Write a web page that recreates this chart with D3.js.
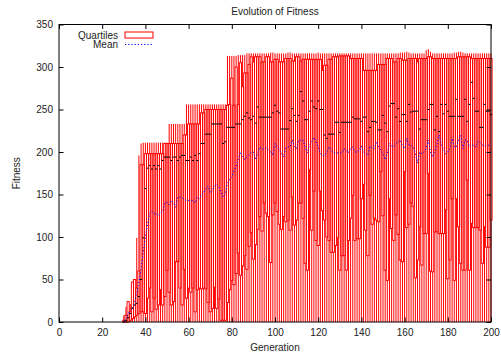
<!DOCTYPE html>
<html>
<head>
<meta charset="utf-8">
<script src="https://cdn.jsdelivr.net/npm/d3@7"></script>
<style>
  body { margin: 0; background: #fff; }
  svg { display: block; font-family: "Liberation Sans", Arial, sans-serif; }
</style>
</head>
<body>
<svg id="chart" width="501" height="356"></svg>
<script>
// Generations 30..200 (fitness is zero everywhere before 30)
const generations = d3.range(30, 201);

const minFitness = [
  0, 0, 0, 0, 0, 0, 0, 0, 0, 0,
  0, 0, 0, 0, 0, 0, 0, 0, 0, 0,
  0, 0, 0, 0, 0, 0, 0, 0, 0, 0,
  0, 0, 0, 0, 0, 0, 0, 0, 0, 0,
  0, 0, 0, 0, 0, 0, 0, 0, 0, 0,
  0, 0, 0, 0, 0, 0, 0, 0, 0, 0,
  0, 0, 0, 0, 0, 0, 0, 0, 0, 0,
  0, 0, 0, 0, 0, 0, 0, 0, 0, 0,
  0, 0, 0, 0, 0, 0, 0, 0, 0, 0,
  0, 0, 0, 0, 0, 0, 0, 0, 0, 0,
  0, 0, 0, 0, 0, 0, 0, 0, 0, 0,
  0, 0, 0, 0, 0, 0, 0, 0, 0, 0,
  0, 0, 0, 0, 0, 0, 0, 0, 0, 0,
  0, 0, 0, 0, 0, 0, 0, 0, 0, 0,
  0, 0, 0, 0, 0, 0, 0, 0, 0, 0,
  0, 0, 0, 0, 0, 0, 0, 0, 0, 0,
  0, 0, 0, 0, 0, 0, 0, 0, 0, 0,
  0
];

const q1Fitness = [
  0, 0, 0, 2, 4, 6, 8, 10, 12, 12,
  10, 28, 40, 12, 28, 15, 20, 38, 20, 30,
  61, 35, 20, 24, 71, 71, 40, 20, 62, 28,
  40, 35, 40, 12, 38, 40, 39, 40, 39, 23,
  12, 16, 41, 16, 27, 2, 2, 2, 23, 38,
  49, 44, 57, 81, 55, 66, 78, 62, 89, 105,
  74, 91, 109, 124, 107, 140, 128, 124, 70, 126,
  140, 130, 115, 109, 124, 118, 120, 108, 147, 114,
  120, 140, 140, 122, 69, 61, 179, 108, 154, 96,
  90, 154, 131, 120, 100, 96, 82, 82, 90, 99,
  61, 78, 78, 61, 96, 122, 149, 96, 98, 98,
  145, 162, 108, 78, 149, 115, 122, 120, 118, 177,
  125, 61, 49, 145, 110, 96, 126, 103, 73, 71,
  177, 111, 115, 140, 136, 52, 73, 112, 67, 104,
  104, 175, 60, 59, 106, 106, 104, 104, 104, 132,
  51, 73, 145, 49, 145, 112, 69, 61, 61, 167,
  61, 116, 111, 111, 111, 108, 69, 112, 88, 88,
  120
];

const medianFitness = [
  0, 2, 5, 10, 16, 20, 22, 30, 50, 99,
  157, 181, 184, 180, 184, 180, 184, 180, 190, 194,
  194, 194, 190, 194, 194, 190, 194, 196, 196, 190,
  190, 194, 190, 196, 190, 198, 210, 210, 221, 221,
  221, 233, 233, 233, 233, 233, 210, 212, 229, 229,
  229, 229, 233, 233, 233, 238, 242, 246, 240, 238,
  242, 234, 253, 241, 241, 241, 241, 241, 241, 246,
  255, 248, 246, 227, 227, 227, 227, 237, 251, 243,
  236, 243, 271, 260, 238, 238, 248, 260, 253, 251,
  260, 250, 250, 220, 216, 221, 221, 221, 235, 235,
  223, 235, 235, 235, 235, 235, 241, 239, 239, 239,
  236, 241, 241, 224, 229, 236, 236, 235, 226, 226,
  243, 234, 224, 254, 257, 257, 241, 251, 236, 244,
  244, 236, 256, 247, 248, 248, 248, 227, 238, 238,
  238, 250, 256, 256, 226, 242, 224, 256, 245, 256,
  248, 242, 242, 242, 262, 242, 242, 242, 262, 236,
  256, 282, 263, 248, 248, 229, 229, 256, 248, 248,
  244
];

const q3Fitness = [
  2, 8, 24, 12, 47, 50, 40, 60, 185, 185,
  198, 198, 198, 198, 198, 198, 198, 198, 198, 210,
  210, 210, 210, 210, 210, 210, 210, 210, 220, 220,
  233, 233, 233, 233, 233, 233, 246, 246, 250, 250,
  250, 250, 250, 250, 250, 250, 250, 250, 255, 256,
  287, 255, 300, 256, 305, 277, 293, 293, 303, 312,
  306, 312, 312, 312, 306, 306, 312, 312, 306, 306,
  309, 309, 306, 306, 306, 310, 310, 310, 307, 307,
  312, 312, 307, 309, 309, 309, 309, 309, 309, 309,
  309, 309, 296, 302, 302, 309, 309, 312, 312, 312,
  313, 313, 313, 313, 313, 310, 310, 310, 310, 310,
  310, 296, 296, 296, 296, 296, 296, 296, 303, 303,
  303, 303, 310, 310, 310, 306, 306, 310, 310, 308,
  308, 308, 310, 310, 310, 310, 306, 310, 310, 310,
  310, 312, 312, 310, 310, 310, 310, 310, 310, 310,
  310, 310, 310, 310, 310, 312, 312, 312, 312, 312,
  312, 310, 310, 310, 310, 310, 310, 310, 310, 310,
  310
];

const maxFitness = [
  8, 18, 24, 21, 47, 50, 99, 196, 210, 211,
  211, 211, 211, 211, 211, 211, 211, 211, 211, 211,
  211, 233, 233, 233, 233, 233, 233, 233, 233, 256,
  256, 256, 256, 256, 256, 256, 256, 256, 256, 256,
  256, 256, 256, 256, 256, 256, 256, 256, 313, 313,
  313, 313, 313, 314, 314, 314, 314, 316, 316, 316,
  316, 316, 316, 316, 316, 316, 316, 316, 317, 317,
  316, 316, 316, 316, 316, 316, 317, 317, 316, 316,
  316, 316, 316, 316, 316, 316, 316, 316, 316, 316,
  317, 316, 316, 316, 316, 316, 316, 316, 316, 316,
  316, 316, 316, 316, 316, 316, 316, 316, 316, 316,
  316, 316, 316, 316, 316, 316, 316, 316, 316, 316,
  316, 316, 316, 316, 316, 316, 316, 316, 317, 317,
  317, 318, 317, 316, 316, 316, 316, 316, 316, 316,
  320, 321, 318, 316, 316, 316, 316, 316, 316, 316,
  316, 316, 316, 317, 317, 318, 318, 317, 316, 316,
  316, 316, 316, 316, 316, 316, 316, 316, 316, 316,
  316
];

const meanFitness = [
  1, 4, 9, 13, 16, 23, 34, 48, 62, 82,
  100, 115, 128, 130, 127, 128, 125, 128, 130, 140,
  141, 138, 143, 140, 135, 147, 147, 146, 144, 143,
  143, 143, 143, 140, 147, 145, 150, 152, 157, 160,
  152, 155, 160, 162, 159, 153, 147, 151, 163, 168,
  171, 178, 183, 191, 200, 195, 191, 194, 197, 200,
  200, 191, 198, 206, 203, 204, 205, 202, 200, 196,
  210, 206, 203, 198, 194, 205, 206, 206, 214, 207,
  204, 214, 214, 214, 205, 199, 208, 212, 217, 212,
  206, 198, 196, 196, 200, 206, 202, 199, 199, 199,
  199, 199, 204, 202, 199, 204, 206, 200, 200, 202,
  207, 200, 198, 196, 207, 205, 204, 212, 206, 202,
  198, 191, 198, 210, 207, 206, 210, 212, 214, 207,
  204, 216, 208, 208, 206, 198, 187, 200, 198, 200,
  204, 214, 200, 194, 202, 210, 220, 208, 204, 198,
  200, 204, 216, 206, 206, 214, 220, 204, 214, 214,
  206, 208, 208, 206, 213, 211, 208, 207, 208, 208,
  208
];

const xTicks = [0, 20, 40, 60, 80, 100, 120, 140, 160, 180, 200];
const yTicks = [0, 50, 100, 150, 200, 250, 300, 350];

const svg = d3.select('#chart');
const plot = {left: 59, right: 491, top: 24.5, bottom: 322};
const tickLen = 4.5;

let xScale = d3.scaleLinear().domain([0, 200]).range([plot.left, plot.right]);
let yScale = d3.scaleLinear().domain([0, 350]).range([plot.bottom, plot.top]);

let data = generations.map((g, i) => ({
  gen: g,
  min: minFitness[i],
  q1: q1Fitness[i],
  median: medianFitness[i],
  q3: q3Fitness[i],
  max: maxFitness[i],
  mean: meanFitness[i]
}));

// Boxes span the full generation step, so neighbour edges overlap
const boxWidth = xScale(1) - xScale(0);

let candles = svg.append('g')
  .attr('class', 'candles')
  .style('stroke', '#ff0000')
  .style('stroke-width', 1)
  .style('fill', 'none');

// Whiskers (box to max, box to min)
candles.selectAll('line.whisker-top')
  .data(data)
  .join('line')
  .attr('class', 'whisker-top')
  .attr('x1', d => xScale(d.gen))
  .attr('x2', d => xScale(d.gen))
  .attr('y1', d => yScale(d.q3))
  .attr('y2', d => yScale(d.max));

candles.selectAll('line.whisker-bottom')
  .data(data)
  .join('line')
  .attr('class', 'whisker-bottom')
  .attr('x1', d => xScale(d.gen))
  .attr('x2', d => xScale(d.gen))
  .attr('y1', d => yScale(d.q1))
  .attr('y2', d => yScale(d.min));

candles.selectAll('rect')
  .data(data)
  .join('rect')
  .attr('x', d => xScale(d.gen) - boxWidth / 2)
  .attr('y', d => yScale(d.q3))
  .attr('width', boxWidth)
  .attr('height', d => yScale(d.q1) - yScale(d.q3));

// Medians
svg.append('g')
  .attr('class', 'medians')
  .selectAll('line')
  .data(data)
  .join('line')
  .attr('x1', d => xScale(d.gen) - boxWidth / 2)
  .attr('x2', d => xScale(d.gen) + boxWidth / 2)
  .attr('y1', d => yScale(d.median))
  .attr('y2', d => yScale(d.median))
  .style('stroke', '#000')
  .style('stroke-width', 1);

// Mean line
let meanLine = d3.line()
  .x(d => xScale(d.gen))
  .y(d => yScale(d.mean));

svg.append('path')
  .datum(data)
  .attr('d', meanLine)
  .style('fill', 'none')
  .style('stroke', '#0000ff')
  .style('stroke-width', 1)
  .style('stroke-dasharray', '1.2,2');

// Axes with inward ticks, mirrored on top and right
const styleAxis = g => {
  g.select('.domain').remove();
  g.selectAll('.tick line').style('stroke', '#000');
  g.selectAll('.tick text')
    .style('font-size', '10px')
    .style('font-family', '"Liberation Sans", Arial, sans-serif')
    .style('fill', '#222');
};

svg.append('g')
  .attr('transform', `translate(0, ${plot.bottom})`)
  .call(d3.axisBottom(xScale).tickValues(xTicks).tickSize(-tickLen).tickSizeOuter(0).tickPadding(7))
  .call(styleAxis);

svg.append('g')
  .attr('transform', `translate(0, ${plot.top})`)
  .call(d3.axisTop(xScale).tickValues(xTicks).tickSize(-tickLen).tickSizeOuter(0).tickFormat(''))
  .call(styleAxis);

svg.append('g')
  .attr('transform', `translate(${plot.left}, 0)`)
  .call(d3.axisLeft(yScale).tickValues(yTicks).tickSize(-tickLen).tickSizeOuter(0).tickPadding(6))
  .call(styleAxis);

svg.append('g')
  .attr('transform', `translate(${plot.right}, 0)`)
  .call(d3.axisRight(yScale).tickValues(yTicks).tickSize(-tickLen).tickSizeOuter(0).tickFormat(''))
  .call(styleAxis);

// Border
svg.append('rect')
  .attr('x', plot.left)
  .attr('y', plot.top)
  .attr('width', plot.right - plot.left)
  .attr('height', plot.bottom - plot.top)
  .style('fill', 'none')
  .style('stroke', '#000')
  .style('stroke-width', 1);

// Titles
svg.append('text')
  .attr('x', (plot.left + plot.right) / 2)
  .attr('y', 15)
  .style('font-size', '10px')
  .style('text-anchor', 'middle')
  .style('fill', '#222')
  .text('Evolution of Fitness');

svg.append('text')
  .attr('x', (plot.left + plot.right) / 2)
  .attr('y', 351)
  .style('font-size', '10px')
  .style('text-anchor', 'middle')
  .style('fill', '#222')
  .text('Generation');

svg.append('text')
  .attr('transform', `translate(20, ${(plot.top + plot.bottom) / 2}) rotate(-90)`)
  .style('font-size', '10px')
  .style('text-anchor', 'middle')
  .style('fill', '#222')
  .text('Fitness');

// Legend
let legend = svg.append('g').attr('class', 'legend');

legend.append('text')
  .attr('x', 118)
  .attr('y', 35)
  .attr('dy', '0.35em')
  .style('font-size', '10px')
  .style('text-anchor', 'end')
  .style('fill', '#222')
  .text('Quartiles');

legend.append('rect')
  .attr('x', 125)
  .attr('y', 32)
  .attr('width', 28)
  .attr('height', 6)
  .style('fill', 'none')
  .style('stroke', '#ff0000');

legend.append('text')
  .attr('x', 118)
  .attr('y', 44.5)
  .attr('dy', '0.35em')
  .style('font-size', '10px')
  .style('text-anchor', 'end')
  .style('fill', '#222')
  .text('Mean');

legend.append('line')
  .attr('x1', 125)
  .attr('x2', 153)
  .attr('y1', 44.5)
  .attr('y2', 44.5)
  .style('stroke', '#0000ff')
  .style('stroke-dasharray', '1.2,2');
</script>
</body>
</html>
